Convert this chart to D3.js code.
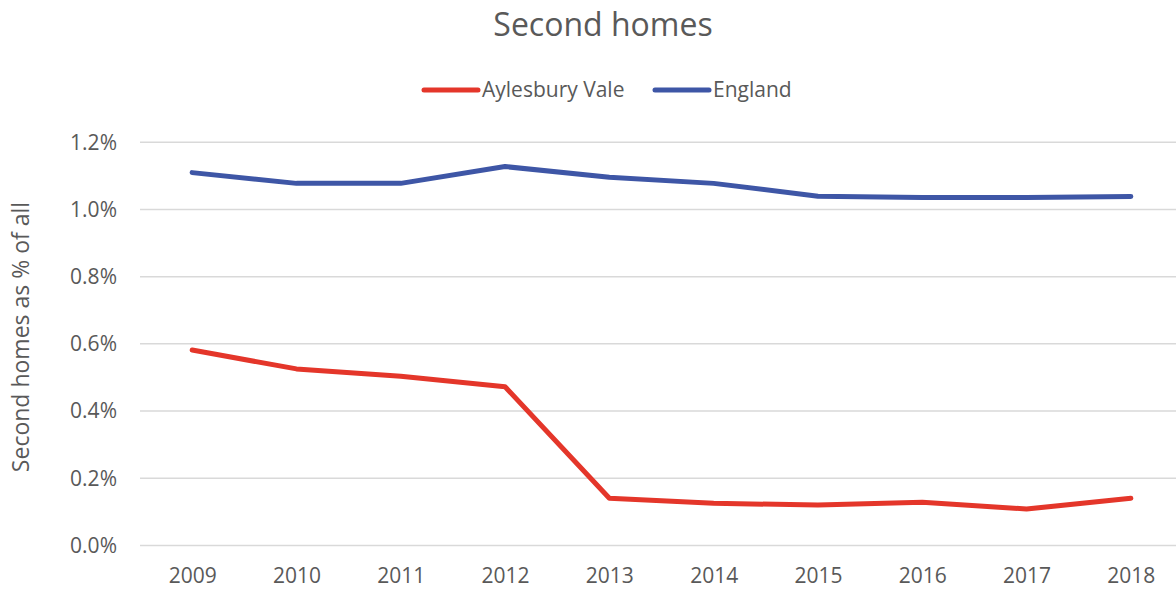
<!DOCTYPE html>
<html>
<head>
<meta charset="utf-8">
<script src="https://cdn.jsdelivr.net/npm/d3@7"></script>
<style>
  body { margin: 0; background: #fff; }
  svg text { font-family: "Open Sans", "Noto Sans", sans-serif; fill: #595959; }
</style>
</head>
<body>
<svg width="1176" height="590"></svg>
<script>
// データ
const years = ["2009", "2010", "2011", "2012", "2013", "2014", "2015", "2016", "2017", "2018"];
const aylesbury = [0.580, 0.524, 0.502, 0.471, 0.139, 0.124, 0.119, 0.127, 0.107, 0.139];
const england = [1.108, 1.076, 1.076, 1.126, 1.094, 1.076, 1.038, 1.034, 1.034, 1.037];
const yTicks = [0, 0.2, 0.4, 0.6, 0.8, 1.0, 1.2];
const seriesNames = ["Aylesbury Vale", "England"];
const colors = ["#E4362A", "#3E56A6"];

const width = 1176;
const height = 590;
const svg = d3.select("svg");

// スケール
const x = d3.scalePoint().domain(years).range([140, 1183]).padding(0.5);
const y = d3.scaleLinear().domain([0, 1.2]).range([545, 141.7]);

// グリッド線とy軸ラベル
svg.append("g")
    .attr("transform", "translate(140,0)")
    .call(d3.axisLeft(y).tickValues(yTicks).tickSize(-1050).tickFormat(d => d.toFixed(1) + "%"))
    .call(g => g.select(".domain").remove())
    .call(g => g.selectAll(".tick line").attr("stroke", "#D9D9D9").attr("stroke-width", 1.5))
    .call(g => g.selectAll(".tick text")
        .attr("x", -23)
        .attr("dy", "0.35em")
        .style("font-size", "21px")
        .attr("fill", "#595959"));

// x軸
svg.append("g")
    .attr("transform", "translate(0,545)")
    .call(d3.axisBottom(x).tickSize(0))
    .call(g => g.select(".domain").remove())
    .call(g => g.selectAll(".tick text")
        .attr("y", 31)
        .attr("dy", "0.35em")
        .style("font-size", "21px")
        .attr("fill", "#595959"));

// 折れ線
const line = d3.line().x((d, i) => x(years[i])).y(d => y(d));
[aylesbury, england].forEach((vals, k) => {
    svg.append("path")
        .datum(vals)
        .attr("fill", "none")
        .attr("stroke", colors[k])
        .attr("stroke-width", 5)
        .attr("stroke-linecap", "round")
        .attr("stroke-linejoin", "round")
        .attr("d", line);
});

// タイトル
svg.append("text")
    .attr("x", 603)
    .attr("y", 25)
    .attr("dy", "0.35em")
    .attr("text-anchor", "middle")
    .style("font-size", "32px")
    .text("Second homes");

// 凡例
const legendX = [424, 655];
seriesNames.forEach((name, k) => {
    svg.append("line")
        .attr("x1", legendX[k]).attr("x2", legendX[k] + 54)
        .attr("y1", 90).attr("y2", 90)
        .attr("stroke", colors[k])
        .attr("stroke-width", 5)
        .attr("stroke-linecap", "round");
    svg.append("text")
        .attr("x", legendX[k] + 58)
        .attr("y", 90)
        .attr("dy", "0.35em")
        .style("font-size", "21px")
        .text(name);
});

// y軸タイトル
svg.append("text")
    .attr("transform", "translate(21,337) rotate(-90)")
    .attr("text-anchor", "middle")
    .attr("dy", "0.35em")
    .style("font-size", "23px")
    .text("Second homes as % of all");
</script>
</body>
</html>
